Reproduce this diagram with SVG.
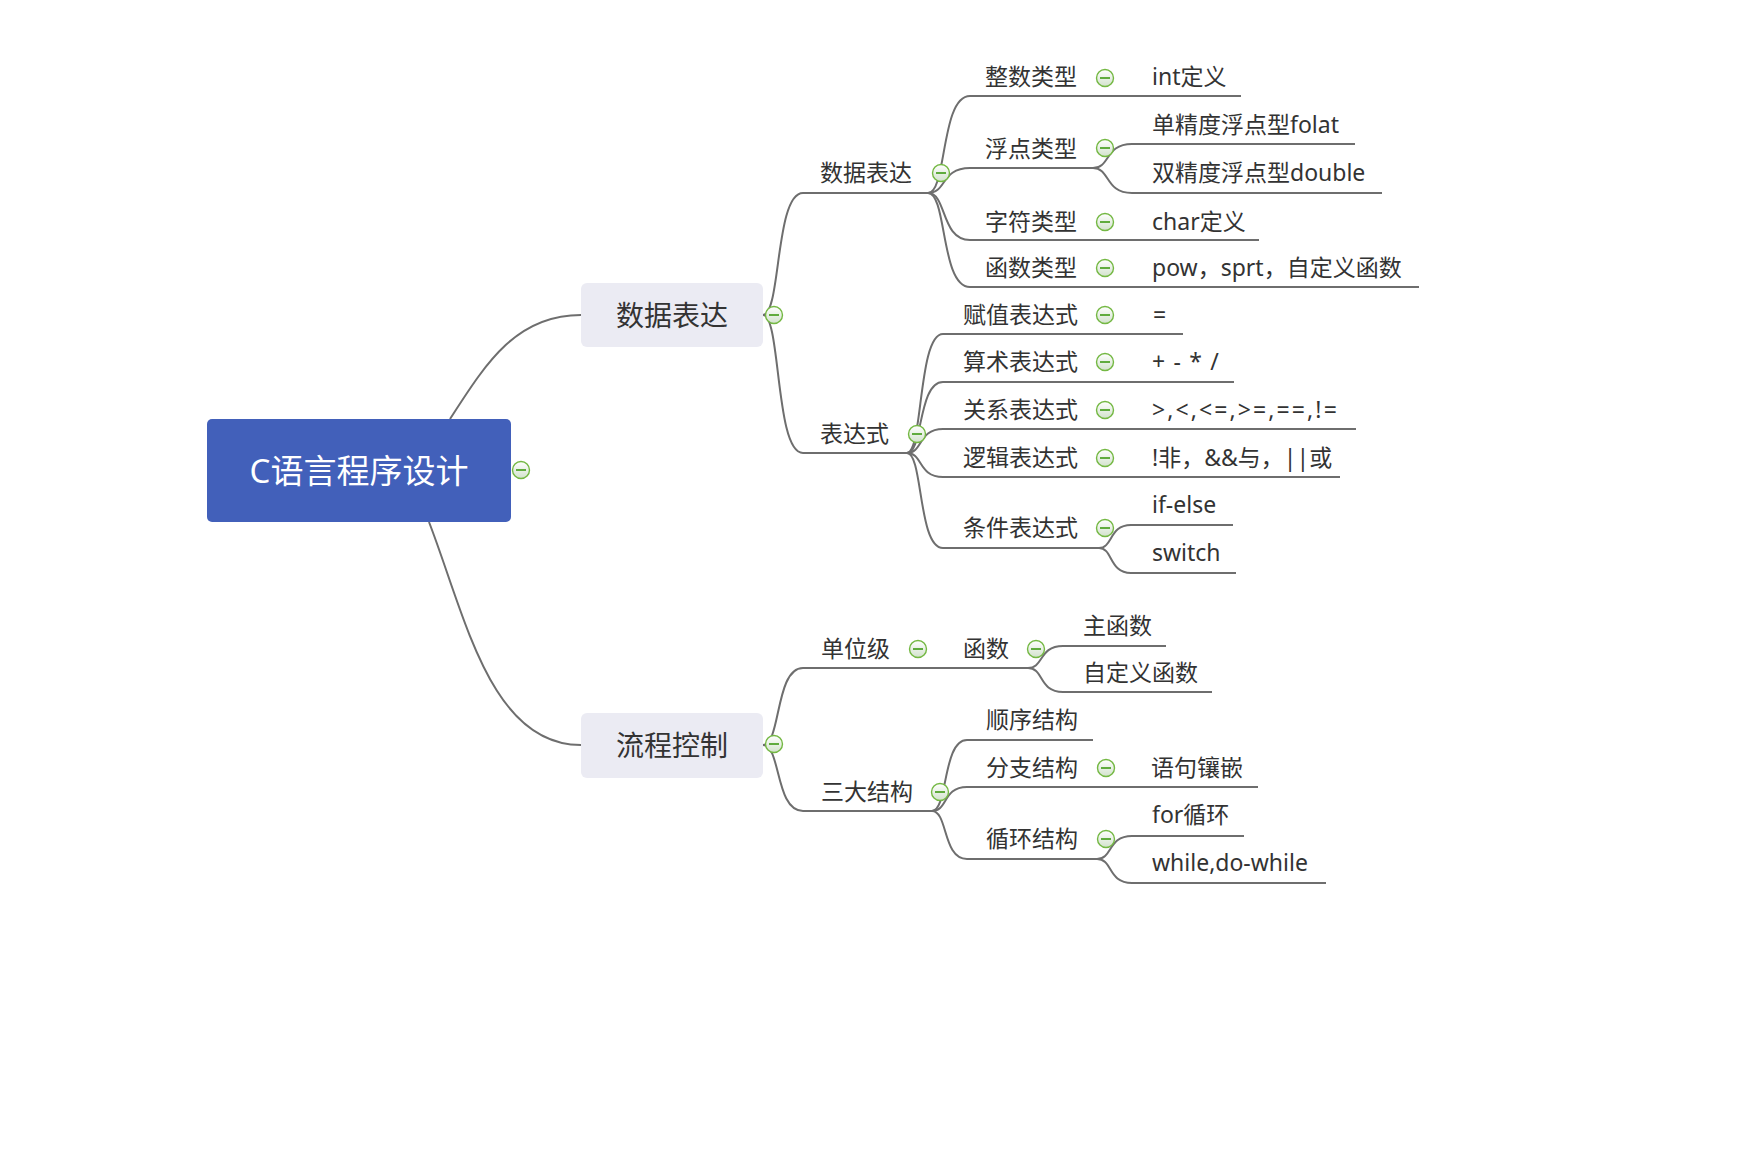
<svg xmlns="http://www.w3.org/2000/svg" xmlns:xlink="http://www.w3.org/1999/xlink" width="1752" height="1156" viewBox="0 0 1752 1156">
<style>
.t{font-family:"Noto Sans","Noto Sans CJK SC",sans-serif;font-size:23px;fill:#333333;dominant-baseline:central}
.b{font-family:"Noto Sans","Noto Sans CJK SC",sans-serif;font-size:28px;fill:#333333;dominant-baseline:central;text-anchor:middle}
.r{font-family:"Noto Sans","Noto Sans CJK SC",sans-serif;font-size:33px;fill:#ffffff;dominant-baseline:central;text-anchor:middle}
.ln{fill:none;stroke:#6e6e6e;stroke-width:2}
.box{fill:#EBEBF3}
</style>
<defs>
<linearGradient id="cg" x1="0" y1="0" x2="0" y2="1">
<stop offset="0" stop-color="#ffffff"/>
<stop offset="1" stop-color="#d2e2cc"/>
</linearGradient>
<symbol id="col" viewBox="-10 -10 20 20" width="20" height="20" overflow="visible">
<circle cx="0" cy="0" r="8.5" fill="url(#cg)" stroke="#74b843" stroke-width="1.4"/>
<line x1="-5" y1="0" x2="5" y2="0" stroke="#3e9a14" stroke-width="1.6"/>
</symbol>
</defs>
<rect width="1752" height="1156" fill="#ffffff"/>
<g id="connectors">
<path class="ln" d="M450,419 C485,365 515,315 581,315"/>
<path class="ln" d="M429,522 C465,615 490,745 581,745"/>
<path class="ln" d="M763,315 C781,315 775,193 803,193 H928"/>
<path class="ln" d="M763,315 C781,315 775,453 803,453 H907"/>
<path class="ln" d="M763,745 C781,745 775,668 803,668 H1028"/>
<path class="ln" d="M763,745 C781,745 775,811 803,811 H932"/>
<path class="ln" d="M928,193 C947,193 940.6,96 970,96 H1241"/>
<path class="ln" d="M928,193 C947,193 940.6,168 970,168 H1093"/>
<path class="ln" d="M928,193 C947,193 940.6,240 970,240 H1259"/>
<path class="ln" d="M928,193 C947,193 940.6,287 970,287 H1419"/>
<path class="ln" d="M1093,168 C1110.5,168 1104.7,144 1132,144 H1355"/>
<path class="ln" d="M1093,168 C1110.5,168 1104.7,193 1132,193 H1382"/>
<path class="ln" d="M907,453 C923,453 918,334 943,334 H1183"/>
<path class="ln" d="M907,453 C923,453 918,382 943,382 H1234"/>
<path class="ln" d="M907,453 C923,453 918,429 943,429 H1356"/>
<path class="ln" d="M907,453 C923,453 918,477 943,477 H1340"/>
<path class="ln" d="M907,453 C923,453 918,548 943,548 H1099"/>
<path class="ln" d="M1099,548 C1113,548 1109,525 1131,525 H1233"/>
<path class="ln" d="M1099,548 C1113,548 1109,573 1131,573 H1236"/>
<path class="ln" d="M1028,668 C1044,668 1038.5,646 1063,646 H1166"/>
<path class="ln" d="M1028,668 C1044,668 1038.5,692 1063,692 H1212"/>
<path class="ln" d="M932,811 C948,811 942.5,740 967,740 H1093"/>
<path class="ln" d="M932,811 C948,811 942.5,787 967,787 H1258"/>
<path class="ln" d="M932,811 C948,811 942.5,859 967,859 H1097"/>
<path class="ln" d="M1097,859 C1113,859 1107.5,836 1132,836 H1244"/>
<path class="ln" d="M1097,859 C1113,859 1107.5,883 1132,883 H1326"/>
</g>
<g id="root">
<rect x="207" y="419" width="304" height="103" rx="5" fill="#4260BA"/>
<text class="r" x="359" y="470">C语言程序设计</text>
<use href="#col" x="511" y="460"/>
</g>
<g id="n-data">
<rect class="box" x="581" y="283" width="182" height="64" rx="6"/>
<text class="b" x="672" y="315">数据表达</text>
<use href="#col" x="764" y="305"/>
</g>
<g id="n-flow">
<rect class="box" x="581" y="713" width="182" height="65" rx="6"/>
<text class="b" x="672" y="745">流程控制</text>
<use href="#col" x="764" y="734"/>
</g>
<g id="n-data-sub"><text class="t" x="820" y="172">数据表达</text><use href="#col" x="931" y="163"/></g>
<g id="n-expr"><text class="t" x="820" y="432.5">表达式</text><use href="#col" x="907" y="424"/></g>
<g id="n-unit"><text class="t" x="821" y="647.5">单位级</text><use href="#col" x="908" y="639"/></g>
<g id="n-func"><text class="t" x="963" y="647.5">函数</text><use href="#col" x="1026" y="639"/></g>
<g id="n-three"><text class="t" x="821" y="790.5">三大结构</text><use href="#col" x="930" y="782"/></g>
<g id="n-int"><text class="t" x="985" y="75.5">整数类型</text><use href="#col" x="1095" y="68"/></g>
<g id="n-int-def"><text class="t" x="1152" y="75.5">int定义</text></g>
<g id="n-float"><text class="t" x="985" y="147.5">浮点类型</text><use href="#col" x="1095" y="138"/></g>
<g id="n-folat"><text class="t" x="1152" y="123.5">单精度浮点型folat</text></g>
<g id="n-double"><text class="t" x="1152" y="171.5">双精度浮点型double</text></g>
<g id="n-char"><text class="t" x="985" y="220.5">字符类型</text><use href="#col" x="1095" y="212"/></g>
<g id="n-char-def"><text class="t" x="1152" y="220.5">char定义</text></g>
<g id="n-ftype"><text class="t" x="985" y="266.5">函数类型</text><use href="#col" x="1095" y="258"/></g>
<g id="n-pow"><text class="t" x="1152" y="266.5">pow，sprt，自定义函数</text></g>
<g id="n-assign"><text class="t" x="963" y="313.5">赋值表达式</text><use href="#col" x="1095" y="305"/></g>
<g id="n-assign-l"><text class="t" x="1153" y="313.5">=</text></g>
<g id="n-arith"><text class="t" x="963" y="360.5">算术表达式</text><use href="#col" x="1095" y="352"/></g>
<g id="n-arith-l"><text class="t" x="1152" y="360.5" letter-spacing="1.2">+ - * /</text></g>
<g id="n-rel"><text class="t" x="963" y="408.5">关系表达式</text><use href="#col" x="1095" y="400"/></g>
<g id="n-rel-l"><text class="t" x="1152" y="408.5" letter-spacing="2.1">&gt;,&lt;,&lt;=,&gt;=,==,!=</text></g>
<g id="n-logic"><text class="t" x="963" y="456.5">逻辑表达式</text><use href="#col" x="1095" y="448"/></g>
<g id="n-logic-l"><text class="t" x="1152" y="456.5">!非，&amp;&amp;与，||或</text></g>
<g id="n-cond"><text class="t" x="963" y="526.5">条件表达式</text><use href="#col" x="1095" y="518"/></g>
<g id="n-ifelse"><text class="t" x="1152" y="503.5">if-else</text></g>
<g id="n-switch"><text class="t" x="1152" y="551.5">switch</text></g>
<g id="n-main"><text class="t" x="1083" y="624.5">主函数</text></g>
<g id="n-custom"><text class="t" x="1083" y="671.5">自定义函数</text></g>
<g id="n-seq"><text class="t" x="986" y="718.5">顺序结构</text></g>
<g id="n-branch"><text class="t" x="986" y="766.5">分支结构</text><use href="#col" x="1096" y="758"/></g>
<g id="n-nest"><text class="t" x="1151" y="766.5">语句镶嵌</text></g>
<g id="n-loop"><text class="t" x="986" y="837.5">循环结构</text><use href="#col" x="1096" y="829"/></g>
<g id="n-for"><text class="t" x="1152" y="813.5">for循环</text></g>
<g id="n-while"><text class="t" x="1152" y="861.5">while,do-while</text></g>
</svg>
